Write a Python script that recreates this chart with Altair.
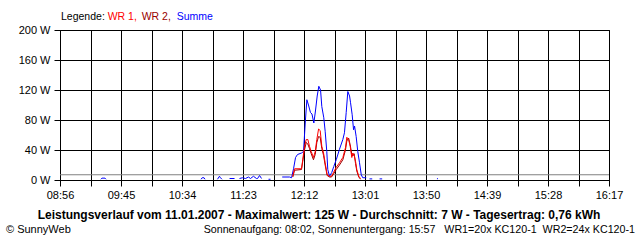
import altair as alt
import pandas as pd

# ---------------- data ----------------
# time = minutes since midnight, None = gap in the line
summe_t = [568.8, 569.7, 572.1, 573.0, None,
           649.3, 650.2, 651.7, 652.5, None,
           662.5, 664.1, 664.9, 666.1, None,
           672.2, 676.2, None,
           680.2, 682.6, 685.0, 687.4, 689.0, 691.4, 693.8, 694.7, 696.3, 697.9, None,
           703.5, 705.1, None,
           714.5, 720.4, 722.0, 723.6, 725.2, 726.8, 730.0, 731.6, 733.0, 734.3,
           735.6, 737.2, 738.4, 739.9, 741.2, 742.6, 743.9, 745.3, 746.3, 747.9,
           749.0, 750.3, 751.1, 752.5, 754.3, 755.9, 757.9, 760.5, 763.2, 764.5,
           765.9, 767.2, 768.6, 769.4, 770.7, 771.8, 772.6, 773.9, 775.2, 776.6,
           778.0, 779.2, 782.0, None,
           784.6, 786.8, None,
           792.7, 794.8, None,
           838.8, 839.6]
summe_w = [1, 2.5, 2.5, 1, None,
           1, 3, 3, 1, None,
           1, 5, 3, 1, None,
           2, 2, None,
           2, 3, 2, 4, 2, 5, 2, 2, 6, 2, None,
           1, 1, None,
           4, 4, 3, 15, 30, 34, 36, 38, 76, 107,
           100, 90, 88, 76, 92, 112, 125, 120, 98, 83,
           65, 38, 14, 5, 10, 18, 27, 41, 54, 63,
           90, 118, 112, 103, 87, 67, 72, 58, 38, 23,
           7, 3, 3, None,
           1.5, 1.5, None,
           1.5, 1.5, None,
           1.5, 2]

wr_t = [723.0, 724.4, 730.0, 731.0, 732.4, 733.8, 735.1, 736.4, 737.8, 739.6,
        741.0, 742.3, 743.7, 745.0, 746.3, 747.7, 749.0, 750.6, 752.5, 754.1,
        755.7, 757.9, 760.5, 763.2, 765.3, 766.4, 767.8, 769.1, 770.4, 771.2,
        772.3, 773.4, 774.4, 776.0, 777.4]
wr1_w = [5, 15, 15, 27, 45, 54, 54, 45, 38, 30,
         38, 54, 68, 66, 45, 36, 23, 7, 5, 5,
         10, 17, 23, 30, 43, 57, 54, 45, 30, 36,
         33, 25, 14, 5, 2]
wr2_w = [4, 13, 14, 25, 40, 50, 48, 42, 35, 27,
         34, 50, 58, 57, 42, 33, 20, 6, 4, 4,
         8, 14, 20, 27, 40, 52, 56, 47, 34, 32,
         35, 22, 12, 4, 1]

durchschnitt = 7
x_start, x_end = 536, 977          # 08:56 .. 16:17
x_grid_step = 24.5
tick_labels = ["08:56", "09:45", "10:34", "11:23", "12:12",
               "13:01", "13:50", "14:39", "15:28", "16:17"]
y_ticks = [0, 40, 80, 120, 160, 200]

legend_words = ["Legende:", "WR 1,", "WR 2,", "Summe"]
legend_colors = ["#000000", "#FF0000", "#990000", "#0000FF"]
title_text = "Leistungsverlauf vom 11.01.2007 - Maximalwert: 125 W - Durchschnitt: 7 W - Tagesertrag: 0,76 kWh"
left_footer = "\u00a9 SunnyWeb"
right_footer = ("Sonnenaufgang: 08:02, Sonnenuntergang: 15:57\u00a0\u00a0\u00a0"
                "WR1=20x KC120-1\u00a0\u00a0WR2=24x KC120-1")


def build(ts, ws, name):
    rows, seg = [], 0
    for t, w in zip(ts, ws):
        if t is None:
            seg += 1
            continue
        rows.append({"t": t, "w": w, "seg": seg, "s": name})
    return pd.DataFrame(rows)


df_sum = build(summe_t, summe_w, "Summe")
df_wr1 = build(wr_t, wr1_w, "WR 1")
df_wr2 = build(wr_t, wr2_w, "WR 2")

W, H = 549, 150
FONT = "Liberation Sans"

x_vals = [x_start + i * x_grid_step for i in range(int((x_end - x_start) / x_grid_step) + 1)]
label_expr = "".join(
    f"datum.value == {x_start + i * 49} ? '{lab}' : " for i, lab in enumerate(tick_labels)
) + "''"

xscale = alt.Scale(domain=[x_start, x_end], nice=False, zero=False)
yscale = alt.Scale(domain=[0, 200], nice=False)

xaxis = alt.Axis(values=x_vals, labelExpr=label_expr, title=None, grid=True,
                 gridColor="black", gridOpacity=1, tickColor="black", tickSize=6,
                 domainColor="black", labelPadding=3, labelFont=FONT, labelFontSize=11,
                 labelColor="black", labelFlush=False, labelOverlap=False)
yaxis = alt.Axis(values=y_ticks, labelExpr="datum.value + ' W'", title=None, grid=True,
                 gridColor="black", gridOpacity=1, tickColor="black", tickSize=6,
                 domainColor="black", labelPadding=4, labelFont=FONT, labelFontSize=11,
                 labelColor="black", labelOverlap=False, labelFlush=False)

X = alt.X("t:Q", scale=xscale, axis=xaxis)
Y = alt.Y("w:Q", scale=yscale, axis=yaxis)

avg_rule = alt.Chart(pd.DataFrame({"t": [x_start], "w": [durchschnitt]})).mark_rule(
    color="#808080", strokeWidth=1
).encode(
    x=alt.value(0), x2=alt.value(W),
    y=Y,
)
xdummy = alt.Chart(pd.DataFrame({"t": [x_start], "w": [0]})).mark_point(opacity=0).encode(
    x=X, y=Y,
)


def line(df, color):
    return alt.Chart(df).mark_line(color=color, strokeWidth=1).encode(
        x=X, y=Y,
        detail="seg:N",
        order="t:Q",
    )


layers = [avg_rule, xdummy,
          line(df_sum, "#0000FF"), line(df_wr2, "#990000"), line(df_wr1, "#FF0000")]

one = pd.DataFrame({"a": [0]})


def txt(text, x, y, color="black", size=11, weight="normal", align="left"):
    return alt.Chart(one).mark_text(
        font=FONT, fontSize=size, fontWeight=weight, color=color, align=align,
        baseline="alphabetic"
    ).encode(x=alt.value(x), y=alt.value(y), text=alt.value(text))


legend_x = [1, 47.7, 81.7, 116.7]
for word, col, lx in zip(legend_words, legend_colors, legend_x):
    layers.append(txt(word, lx, -10.5, color=col, size=10.5))

layers.append(txt(title_text, 259, 189, size=12, weight="bold", align="center"))
layers.append(txt(left_footer, -54, 203))
layers.append(txt(right_footer, 575, 203, size=10.7, align="right"))

chart = alt.layer(*layers).properties(
    width=W, height=H,
    autosize=alt.AutoSizeParams(type="none"),
    padding={"left": 60, "top": 30, "right": 31, "bottom": 60},
    background="white",
).configure_view(stroke="black", strokeWidth=1)

chart.save("out.html", embed_options={"renderer": "svg", "actions": False})
